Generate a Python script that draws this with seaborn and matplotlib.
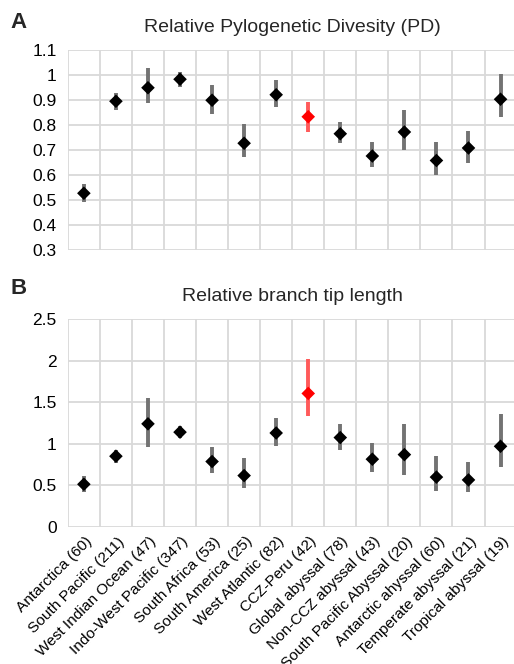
import numpy as np
import pandas as pd
import matplotlib
matplotlib.use("Agg")
import matplotlib.pyplot as plt
import matplotlib.transforms as mtrans
import seaborn as sns

regions = ["Antarctica (60)", "South Pacific (211)", "West Indian Ocean (47)",
           "Indo-West Pacific (347)", "South Africa (53)", "South America (25)",
           "West Atlantic (82)", "CCZ-Peru (42)", "Global abyssal (78)",
           "Non-CCZ abyssal (43)", "South Pacific Abyssal (20)",
           "Antarctic ahyssal (60)", "Temperate abyssal (21)", "Tropical abyssal (19)"]

# relative phylogenetic diversity
pd_mean = [0.527, 0.895, 0.949, 0.983, 0.899, 0.727, 0.921, 0.833, 0.765, 0.676, 0.772, 0.658, 0.708, 0.903]
pd_low = [0.493, 0.860, 0.887, 0.953, 0.843, 0.671, 0.871, 0.773, 0.727, 0.631, 0.700, 0.600, 0.647, 0.830]
pd_high = [0.564, 0.929, 1.028, 1.012, 0.960, 0.804, 0.980, 0.892, 0.812, 0.733, 0.860, 0.733, 0.777, 1.004]

# relative branch tip length
tip_mean = [0.514, 0.851, 1.240, 1.140, 0.787, 0.618, 1.130, 1.605, 1.075, 0.815, 0.870, 0.600, 0.566, 0.970]
tip_low = [0.420, 0.770, 0.963, 1.067, 0.650, 0.465, 0.975, 1.330, 0.930, 0.666, 0.630, 0.433, 0.425, 0.722]
tip_high = [0.610, 0.923, 1.549, 1.210, 0.963, 0.830, 1.308, 2.020, 1.244, 1.010, 1.244, 0.855, 0.786, 1.356]

highlight = "CCZ-Peru (42)"

sns.set_theme(style="white")
plt.rcParams['font.family'] = ['Liberation Sans', 'DejaVu Sans']

fig = plt.figure(figsize=(5.14, 6.64), dpi=100)
ax1 = fig.add_axes([0.132, 0.6235, 0.873, 0.3012])
ax2 = fig.add_axes([0.132, 0.2063, 0.873, 0.3133])


def panel(ax, mean, low, high, ylim, step, title):
    df = pd.DataFrame({"region": regions, "mean": mean, "low": low, "high": high})
    df["grp"] = np.where(df["region"] == highlight, "hi", "lo")
    x = np.arange(len(regions))
    for grp, bcol in [("lo", "#737373"), ("hi", "#ff5a5a")]:
        sub = df[df["grp"] == grp]
        xs = x[df["grp"] == grp]
        ax.vlines(xs, sub["low"], sub["high"], color=bcol, lw=2.8, zorder=2)
    sns.scatterplot(data=df, x="region", y="mean", hue="grp",
                    palette={"lo": "black", "hi": "#ff0000"}, marker="D",
                    s=48, edgecolor="none", legend=False, ax=ax, zorder=3)
    ax.set_xlim(-0.5, len(regions) - 0.5)
    ax.set_ylim(*ylim)
    ax.set_yticks(np.arange(ylim[0], ylim[1] + step / 2, step))
    ax.yaxis.set_major_formatter(matplotlib.ticker.FuncFormatter(lambda v, p: f"{v:g}"))
    ax.set_xticks(np.arange(-0.5, len(regions), 1), minor=True)
    ax.grid(True, axis="y", which="major", color="#d9d9d9", lw=1.3)
    ax.grid(True, axis="x", which="minor", color="#d9d9d9", lw=1.3)
    for s in ax.spines.values():
        s.set_visible(False)
    ax.tick_params(axis="both", which="both", length=0, labelsize=12.5, colors="black")
    ax.tick_params(axis="y", pad=8)
    ax.set_xlabel("")
    ax.set_ylabel("")
    ax.set_title(title, fontsize=14, pad=13)


panel(ax1, pd_mean, pd_low, pd_high, (0.3, 1.1), 0.1,
      "Relative Pylogenetic Divesity (PD)")
panel(ax2, tip_mean, tip_low, tip_high, (0, 2.5), 0.5,
      "Relative branch tip length")

fig.text(10 / 514, 1 - 33 / 664, "A", fontsize=16, fontweight="bold", ha="left", va="bottom")
fig.text(10 / 514, 1 - 299 / 664, "B", fontsize=16, fontweight="bold", ha="left", va="bottom")

ax1.set_xticks(np.arange(len(regions)))
ax1.set_xticklabels([])
ax2.set_xticks(np.arange(len(regions)))
ax2.set_xticklabels(regions, rotation=45, ha="right", va="center",
                    rotation_mode="anchor", fontsize=11.1)
ax2.tick_params(axis="x", pad=11)
shift = mtrans.ScaledTranslation(0.06, 0.03, fig.dpi_scale_trans)
for lab in ax2.get_xticklabels():
    lab.set_transform(lab.get_transform() + shift)

fig.savefig("out.png", dpi=100)
